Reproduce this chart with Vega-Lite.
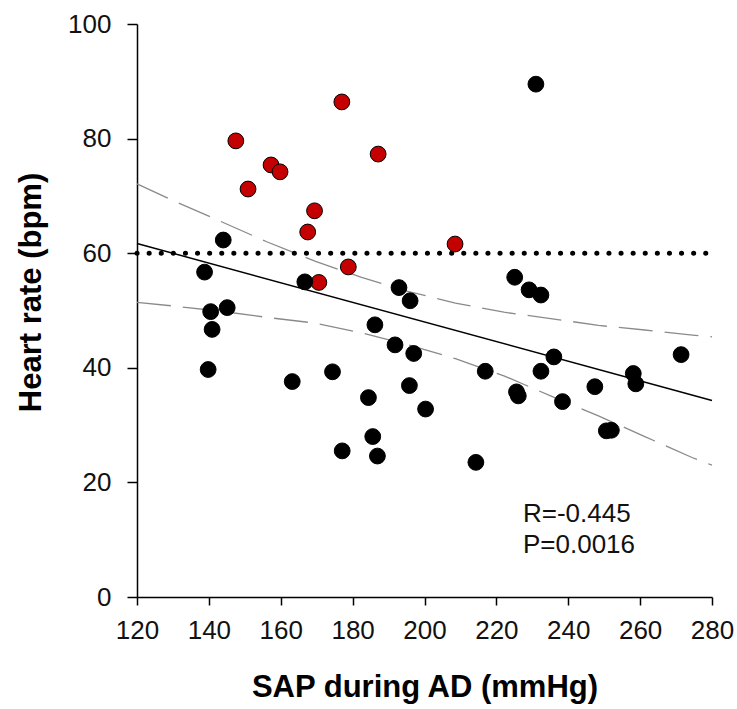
{
  "$schema": "https://vega.github.io/schema/vega-lite/v6.json",
  "width": 575,
  "height": 573,
  "autosize": {"type": "none"},
  "padding": {"left": 137, "top": 24, "right": 25, "bottom": 112},
  "background": "white",
  "config": {
    "view": {"stroke": null},
    "font": "Liberation Sans",
    "axis": {
      "domainColor": "#000000",
      "domainWidth": 1.5,
      "tickColor": "#000000",
      "tickWidth": 1.5,
      "grid": false,
      "labelFont": "Liberation Sans",
      "labelFontSize": 26,
      "labelColor": "#111111",
      "titleFont": "Liberation Sans",
      "titleFontSize": 31,
      "titleFontWeight": "bold",
      "titleColor": "#000000"
    }
  },
  "datasets": {
    "pts": [
      {"sap": 147.5, "hr": 79.6, "grp": "red"},
      {"sap": 150.9, "hr": 71.2, "grp": "red"},
      {"sap": 157.3, "hr": 75.4, "grp": "red"},
      {"sap": 159.8, "hr": 74.2, "grp": "red"},
      {"sap": 169.4, "hr": 67.4, "grp": "red"},
      {"sap": 167.5, "hr": 63.7, "grp": "red"},
      {"sap": 170.6, "hr": 54.9, "grp": "red"},
      {"sap": 178.8, "hr": 57.6, "grp": "red"},
      {"sap": 177.0, "hr": 86.4, "grp": "red"},
      {"sap": 187.1, "hr": 77.3, "grp": "red"},
      {"sap": 208.5, "hr": 61.6, "grp": "red"},
      {"sap": 144.0, "hr": 62.3, "grp": "black"},
      {"sap": 138.8, "hr": 56.7, "grp": "black"},
      {"sap": 166.7, "hr": 55.0, "grp": "black"},
      {"sap": 140.5, "hr": 49.8, "grp": "black"},
      {"sap": 145.1, "hr": 50.5, "grp": "black"},
      {"sap": 140.9, "hr": 46.7, "grp": "black"},
      {"sap": 139.8, "hr": 39.7, "grp": "black"},
      {"sap": 163.2, "hr": 37.6, "grp": "black"},
      {"sap": 192.9, "hr": 54.0, "grp": "black"},
      {"sap": 196.0, "hr": 51.7, "grp": "black"},
      {"sap": 186.2, "hr": 47.5, "grp": "black"},
      {"sap": 191.8, "hr": 44.0, "grp": "black"},
      {"sap": 197.0, "hr": 42.5, "grp": "black"},
      {"sap": 174.4, "hr": 39.3, "grp": "black"},
      {"sap": 216.9, "hr": 39.4, "grp": "black"},
      {"sap": 195.8, "hr": 36.9, "grp": "black"},
      {"sap": 184.4, "hr": 34.8, "grp": "black"},
      {"sap": 200.3, "hr": 32.8, "grp": "black"},
      {"sap": 185.6, "hr": 28.0, "grp": "black"},
      {"sap": 177.1, "hr": 25.5, "grp": "black"},
      {"sap": 186.9, "hr": 24.6, "grp": "black"},
      {"sap": 214.3, "hr": 23.5, "grp": "black"},
      {"sap": 231.0, "hr": 89.5, "grp": "black"},
      {"sap": 225.1, "hr": 55.8, "grp": "black"},
      {"sap": 229.1, "hr": 53.6, "grp": "black"},
      {"sap": 232.4, "hr": 52.7, "grp": "black"},
      {"sap": 236.0, "hr": 41.9, "grp": "black"},
      {"sap": 232.4, "hr": 39.4, "grp": "black"},
      {"sap": 225.6, "hr": 35.8, "grp": "black"},
      {"sap": 226.1, "hr": 35.1, "grp": "black"},
      {"sap": 238.4, "hr": 34.1, "grp": "black"},
      {"sap": 247.4, "hr": 36.7, "grp": "black"},
      {"sap": 258.1, "hr": 39.0, "grp": "black"},
      {"sap": 258.8, "hr": 37.2, "grp": "black"},
      {"sap": 271.4, "hr": 42.3, "grp": "black"},
      {"sap": 250.6, "hr": 29.0, "grp": "black"},
      {"sap": 252.0, "hr": 29.1, "grp": "black"}
    ],
    "fit": [
      {"sap": 120, "hr": 61.7},
      {"sap": 280, "hr": 34.3}
    ],
    "bands": [
      {"sap": 120, "hr": 72.1, "band": "upper"},
      {"sap": 129.6, "hr": 69.3, "band": "upper"},
      {"sap": 143.1, "hr": 65.6, "band": "upper"},
      {"sap": 156.1, "hr": 62.0, "band": "upper"},
      {"sap": 169.5, "hr": 58.6, "band": "upper"},
      {"sap": 182.5, "hr": 55.8, "band": "upper"},
      {"sap": 195.0, "hr": 53.4, "band": "upper"},
      {"sap": 208.6, "hr": 51.3, "band": "upper"},
      {"sap": 222.1, "hr": 49.7, "band": "upper"},
      {"sap": 235.1, "hr": 48.6, "band": "upper"},
      {"sap": 248.4, "hr": 47.4, "band": "upper"},
      {"sap": 261.3, "hr": 46.6, "band": "upper"},
      {"sap": 274.6, "hr": 45.7, "band": "upper"},
      {"sap": 280, "hr": 45.4, "band": "upper"},
      {"sap": 120, "hr": 51.4, "band": "lower"},
      {"sap": 129.9, "hr": 50.8, "band": "lower"},
      {"sap": 143.0, "hr": 49.9, "band": "lower"},
      {"sap": 156.1, "hr": 48.8, "band": "lower"},
      {"sap": 169.5, "hr": 47.8, "band": "lower"},
      {"sap": 182.5, "hr": 46.1, "band": "lower"},
      {"sap": 195.0, "hr": 44.1, "band": "lower"},
      {"sap": 208.6, "hr": 41.6, "band": "lower"},
      {"sap": 222.1, "hr": 38.6, "band": "lower"},
      {"sap": 235.1, "hr": 35.1, "band": "lower"},
      {"sap": 248.4, "hr": 31.6, "band": "lower"},
      {"sap": 261.3, "hr": 28.0, "band": "lower"},
      {"sap": 274.6, "hr": 24.3, "band": "lower"},
      {"sap": 280, "hr": 23.0, "band": "lower"}
    ],
    "ref": [
      {"sap": 120, "hr": 60},
      {"sap": 280, "hr": 60}
    ],
    "notes": [
      {"sap": 227.4, "hr": 13.1, "label": "R=-0.445"},
      {"sap": 227.4, "hr": 7.7, "label": "P=0.0016"}
    ]
  },
  "encoding": {
    "x": {
      "field": "sap",
      "type": "quantitative",
      "scale": {"domain": [120, 280], "nice": false, "zero": false},
      "axis": {
        "title": "SAP during AD (mmHg)",
        "values": [120, 140, 160, 180, 200, 220, 240, 260, 280],
        "tickSize": 8,
        "labelPadding": 12,
        "labelFlush": false,
        "titleBaseline": "alphabetic",
        "titleY": 99
      }
    },
    "y": {
      "field": "hr",
      "type": "quantitative",
      "scale": {"domain": [0, 100], "nice": false},
      "axis": {
        "title": "Heart rate (bpm)",
        "values": [0, 20, 40, 60, 80, 100],
        "tickSize": 10,
        "labelPadding": 16,
        "labelFlush": false,
        "titleAngle": -90,
        "titleBaseline": "alphabetic",
        "titleAlign": "center",
        "titleX": -97,
        "titleY": 268
      }
    }
  },
  "layer": [
    {
      "data": {"name": "bands"},
      "mark": {"type": "line", "color": "#8a8a8a", "strokeWidth": 1.3, "strokeDash": [34, 12]},
      "encoding": {"detail": {"field": "band"}}
    },
    {
      "data": {"name": "fit"},
      "mark": {"type": "line", "color": "#000000", "strokeWidth": 1.5},
      "encoding": {}
    },
    {
      "data": {"name": "ref"},
      "mark": {"type": "line", "color": "#000000", "strokeWidth": 5, "strokeDash": [0.1, 12], "strokeCap": "round"},
      "encoding": {}
    },
    {
      "data": {"name": "pts"},
      "mark": {"type": "point", "shape": "circle", "filled": true, "size": 250, "stroke": "#000000", "strokeWidth": 1, "opacity": 1},
      "encoding": {
        "fill": {
          "field": "grp",
          "type": "nominal",
          "scale": {"domain": ["red", "black"], "range": ["#c40000", "#000000"]},
          "legend": null
        }
      }
    },
    {
      "data": {"name": "notes"},
      "mark": {"type": "text", "align": "left", "baseline": "alphabetic", "fontSize": 26, "font": "Liberation Sans", "color": "#111111"},
      "encoding": {"text": {"field": "label"}}
    }
  ]
}
